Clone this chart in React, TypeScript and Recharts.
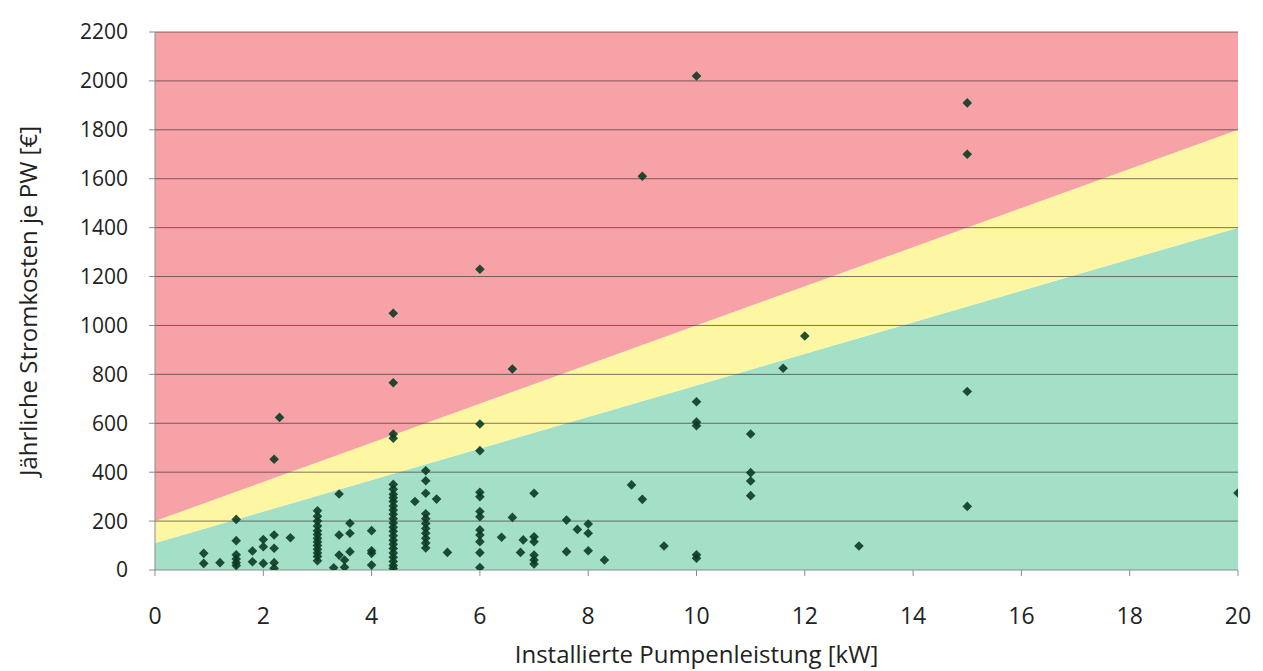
import { ComposedChart, Area, Scatter, XAxis, YAxis, ReferenceLine } from "recharts"

// zone boundaries (kW -> €), read at x = 0 and x = 20
const bandKw = [0, 20]
const greenTop = [110, 1400]
const yellowTop = [200, 1800]
const costMax = 2200

const xTicks = [0, 2, 4, 6, 8, 10, 12, 14, 16, 18, 20]
const yTicks = [0, 200, 400, 600, 800, 1000, 1200, 1400, 1600, 1800, 2000, 2200]

// installed power [kW], one line per group
const pumpKw = [
  0.9, 0.9, 1.2, 1.5, 1.5, 1.5, 1.5, 1.5, 1.5, 1.8, 1.8, 2.0, 2.0, 2.0, 2.2, 2.2, 2.2, 2.2, 2.2, 2.3, 2.5,
  3.0, 3.0, 3.0, 3.0, 3.0, 3.0, 3.0, 3.0, 3.0, 3.0, 3.0, 3.0, 3.0,
  3.3, 3.4, 3.4, 3.4, 3.5, 3.5, 3.6, 3.6, 3.6, 4.0, 4.0, 4.0, 4.0,
  4.4, 4.4, 4.4, 4.4, 4.4, 4.4, 4.4, 4.4, 4.4, 4.4, 4.4, 4.4, 4.4, 4.4, 4.4, 4.4, 4.4, 4.4, 4.4, 4.4, 4.4, 4.4, 4.4, 4.4, 4.4,
  4.8, 5.0, 5.0, 5.0, 5.0, 5.0, 5.0, 5.0, 5.0, 5.0, 5.0, 5.0, 5.2, 5.4,
  6.0, 6.0, 6.0, 6.0, 6.0, 6.0, 6.0, 6.0, 6.0, 6.0, 6.0, 6.0,
  6.4, 6.6, 6.6, 6.75, 6.8, 7.0, 7.0, 7.0, 7.0, 7.0, 7.0,
  7.6, 7.6, 7.8, 8.0, 8.0, 8.0, 8.3, 8.8, 9.0, 9.0, 9.4,
  10, 10, 10, 10, 10, 10, 11, 11, 11, 11, 11.6, 12, 13, 15, 15, 15, 15, 20,
]

// annual electricity cost per pump [€], same grouping as pumpKw
const costEur = [
  68, 27, 30, 207, 120, 62, 45, 30, 18, 78, 34, 125, 95, 27, 143, 89, 30, 7, 453, 624, 132,
  242, 220, 200, 180, 160, 145, 130, 115, 100, 85, 70, 55, 38,
  9, 311, 143, 61, 41, 11, 191, 150, 75, 161, 79, 68, 20,
  1050, 766, 556, 539, 350, 330, 310, 295, 280, 262, 245, 228, 210, 192, 175, 158, 140, 122, 105, 88, 70, 52, 35, 18, 6,
  280, 406, 365, 314, 230, 210, 190, 170, 150, 130, 110, 90, 290, 72,
  1230, 597, 488, 318, 300, 239, 218, 164, 143, 116, 71, 10,
  134, 822, 215, 72, 123, 314, 136, 116, 61, 41, 25,
  204, 75, 166, 188, 150, 79, 41, 348, 289, 1610, 98,
  2020, 688, 605, 590, 62, 48, 556, 398, 364, 304, 825, 957, 98, 1910, 1700, 730, 260, 315,
]

const bandData = bandKw.map((x, i) => ({
  x,
  green: greenTop[i],
  yellow: yellowTop[i] - greenTop[i],
  red: costMax - yellowTop[i],
}))

const points = pumpKw.map((x, i) => ({ x, y: costEur[i] }))

const font = "'Open Sans', 'DejaVu Sans', sans-serif"

const Diamond = (props: any) => {
  const { cx, cy } = props
  const r = 4.8
  return (
    <polygon
      points={`${cx},${cy - r} ${cx + r},${cy} ${cx},${cy + r} ${cx - r},${cy}`}
      fill="#0b3b22"
      fillOpacity={0.9}
    />
  )
}

export default function App() {
  return (
    <div style={{ width: 1247, height: 663, background: "#fff" }}>
      <ComposedChart width={1247} height={663} data={bandData} margin={{ top: 24, right: 17, left: 7, bottom: 8 }}>
        <XAxis
          type="number"
          dataKey="x"
          domain={[0, 20]}
          ticks={xTicks}
          allowDataOverflow
          height={93}
          stroke="#8c8c8c"
          tickSize={6}
          tickMargin={32}
          tick={{ fontSize: 23, fill: "#222", fontFamily: font }}
          label={{
            value: "Installierte Pumpenleistung [kW]",
            position: "insideBottom",
            offset: 0,
            style: { fontSize: 24, fill: "#222", fontFamily: font },
          }}
        />
        <YAxis
          type="number"
          domain={[0, costMax]}
          ticks={yTicks}
          allowDataOverflow
          width={140}
          stroke="#8c8c8c"
          tickSize={6}
          tickMargin={21}
          tick={{ fontSize: 21, fill: "#222", fontFamily: font }}
          label={{
            value: "Jährliche Stromkosten je PW [€]",
            angle: -90,
            position: "insideLeft",
            offset: 13,
            style: { fontSize: 24, fill: "#222", fontFamily: font, textAnchor: "middle" },
          }}
        />
        <Area type="linear" dataKey="green" stackId="zone" stroke="none" fill="#a4e0c7" fillOpacity={1} isAnimationActive={false} />
        <Area type="linear" dataKey="yellow" stackId="zone" stroke="none" fill="#fdf7a3" fillOpacity={1} isAnimationActive={false} />
        <Area type="linear" dataKey="red" stackId="zone" stroke="none" fill="#f6a2a7" fillOpacity={1} isAnimationActive={false} />
        {yTicks.slice(1).map((t) => (
          <ReferenceLine key={t} y={t} stroke="#3a3030" strokeOpacity={0.65} strokeWidth={1} />
        ))}
        <Scatter data={points} dataKey="y" shape={<Diamond />} isAnimationActive={false} />
      </ComposedChart>
    </div>
  )
}
